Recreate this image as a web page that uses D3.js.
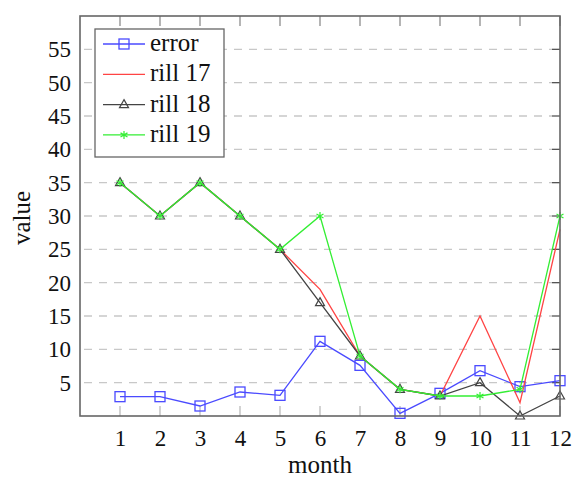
<!DOCTYPE html>
<html lang="en">
<head>
<meta charset="UTF-8">
<title>rill chart</title>
<script src="https://cdn.jsdelivr.net/npm/d3@7"></script>
<style>
  body { margin: 0; background: #fff; }
</style>
</head>
<body>
<svg id="svg" width="573" height="477"></svg>
<script>
    const months = [1, 2, 3, 4, 5, 6, 7, 8, 9, 10, 11, 12]
    const yTicks = [5, 10, 15, 20, 25, 30, 35, 40, 45, 50, 55]
    const errorVals = [2.9, 2.9, 1.5, 3.6, 3.1, 11.2, 7.6, 0.4, 3.4, 6.8, 4.4, 5.3]
    const rill17 = [35, 30, 35, 30, 25, 19, 9, 4, 3, 15, 2, 28]
    const rill18 = [35, 30, 35, 30, 25, 17, 9, 4, 3, 5, 0, 3]
    const rill19 = [35, 30, 35, 30, 25, 30, 9, 4, 3, 3, 4, 30]

    const series = [
        {name: "error", values: errorVals, color: "#4a4aff", marker: "square"},
        {name: "rill 17", values: rill17, color: "#ff4444", marker: "none"},
        {name: "rill 18", values: rill18, color: "#444444", marker: "triangle"},
        {name: "rill 19", values: rill19, color: "#33ee33", marker: "star"}
    ]
    const serif = "'Liberation Serif', 'DejaVu Serif', serif"

    const svg = d3.select("#svg")
    const pLeft = 80, pRight = 560, pTop = 16, pBottom = 416

    const xScale = d3.scaleLinear().domain([0, 12]).range([pLeft, pRight])
    const yScale = d3.scaleLinear().domain([0, 60]).range([pBottom, pTop])

    // dashed grid
    svg.append("g").selectAll("line").data(yTicks).join("line")
        .attr("x1", pLeft + 4).attr("x2", pRight - 8)
        .attr("y1", d => yScale(d)).attr("y2", d => yScale(d))
        .attr("stroke", "#c8c8c8").attr("stroke-width", 1.3)
        .attr("stroke-dasharray", "8 7")

    // axes (labels only)
    const yAxis = d3.axisLeft(yScale).tickValues(yTicks).tickSize(0).tickPadding(9)
    const gy = svg.append("g").attr("transform", `translate(${pLeft},0)`).call(yAxis)
    gy.select(".domain").remove()
    gy.selectAll("text").style("font-family", serif).style("font-size", "23px").attr("fill", "#111")

    const xAxis = d3.axisBottom(xScale).tickValues(months).tickSize(0).tickPadding(14)
    const gx = svg.append("g").attr("transform", `translate(0,${pBottom})`).call(xAxis)
    gx.select(".domain").remove()
    gx.selectAll("text").style("font-family", serif).style("font-size", "23px").attr("fill", "#111")

    // inner ticks
    svg.append("g").selectAll("line").data(months).join("line")
        .attr("x1", d => xScale(d)).attr("x2", d => xScale(d))
        .attr("y1", pBottom).attr("y2", pBottom - 10)
        .attr("stroke", "#bbb").attr("stroke-width", 1.3)
    svg.append("g").selectAll("line").data(months).join("line")
        .attr("x1", d => xScale(d)).attr("x2", d => xScale(d))
        .attr("y1", pTop).attr("y2", pTop + 10)
        .attr("stroke", "#777").attr("stroke-width", 1.1)
    svg.append("g").selectAll("line").data(yTicks).join("line")
        .attr("x1", pRight).attr("x2", pRight - 8)
        .attr("y1", d => yScale(d)).attr("y2", d => yScale(d))
        .attr("stroke", "#555").attr("stroke-width", 1.3)

    const line = d3.line().x((d, i) => xScale(months[i])).y(d => yScale(d))

    function drawMarker(g, type, color, x, y) {
        if (type === "square") {
            g.append("rect").attr("x", x - 5).attr("y", y - 5).attr("width", 10).attr("height", 10)
                .attr("fill", "none").attr("stroke", color).attr("stroke-width", 1.3)
        } else if (type === "triangle") {
            g.append("path").attr("d", `M${x},${y - 5}L${x + 4.5},${y + 3}L${x - 4.5},${y + 3}Z`)
                .attr("fill", "none").attr("stroke", color).attr("stroke-width", 1.2)
        } else if (type === "star") {
            const sym = d3.symbol().type(d3.symbolAsterisk).size(45)
            g.append("path").attr("d", sym()).attr("transform", `translate(${x},${y})`)
                .attr("fill", "none").attr("stroke", color).attr("stroke-width", 1.2)
        }
    }

    const plot = svg.append("g")
    series.forEach(s => {
        plot.append("path").datum(s.values).attr("d", line)
            .attr("fill", "none").attr("stroke", s.color).attr("stroke-width", 1.3)
        const mg = plot.append("g")
        s.values.forEach((v, i) => drawMarker(mg, s.marker, s.color, xScale(months[i]), yScale(v)))
    })

    // frame
    svg.append("rect").attr("x", pLeft).attr("y", pTop)
        .attr("width", pRight - pLeft).attr("height", pBottom - pTop)
        .attr("fill", "none").attr("stroke", "#666").attr("stroke-width", 1.6)

    // legend
    const lg = svg.append("g")
    lg.append("rect").attr("x", 95).attr("y", 29).attr("width", 129).attr("height", 128)
        .attr("fill", "#fff").attr("stroke", "#666").attr("stroke-width", 1.3)
    series.forEach((s, i) => {
        const y = 44 + i * 30.3
        lg.append("line").attr("x1", 103).attr("x2", 145).attr("y1", y).attr("y2", y)
            .attr("stroke", s.color).attr("stroke-width", 1.3)
        drawMarker(lg, s.marker, s.color, 124, y)
        lg.append("text").attr("x", 150).attr("y", y + 7).attr("fill", "#111")
            .style("font-family", serif).style("font-size", "25px").text(s.name)
    })

    // axis titles
    svg.append("text").attr("x", (pLeft + pRight) / 2).attr("y", 473).attr("fill", "#111")
        .attr("text-anchor", "middle").style("font-family", serif).style("font-size", "25px").text("month")
    svg.append("text").attr("transform", `translate(30,${(pTop + pBottom) / 2 + 2}) rotate(-90)`).attr("fill", "#111")
        .attr("text-anchor", "middle").style("font-family", serif).style("font-size", "25px").text("value")
</script>
</body>
</html>
